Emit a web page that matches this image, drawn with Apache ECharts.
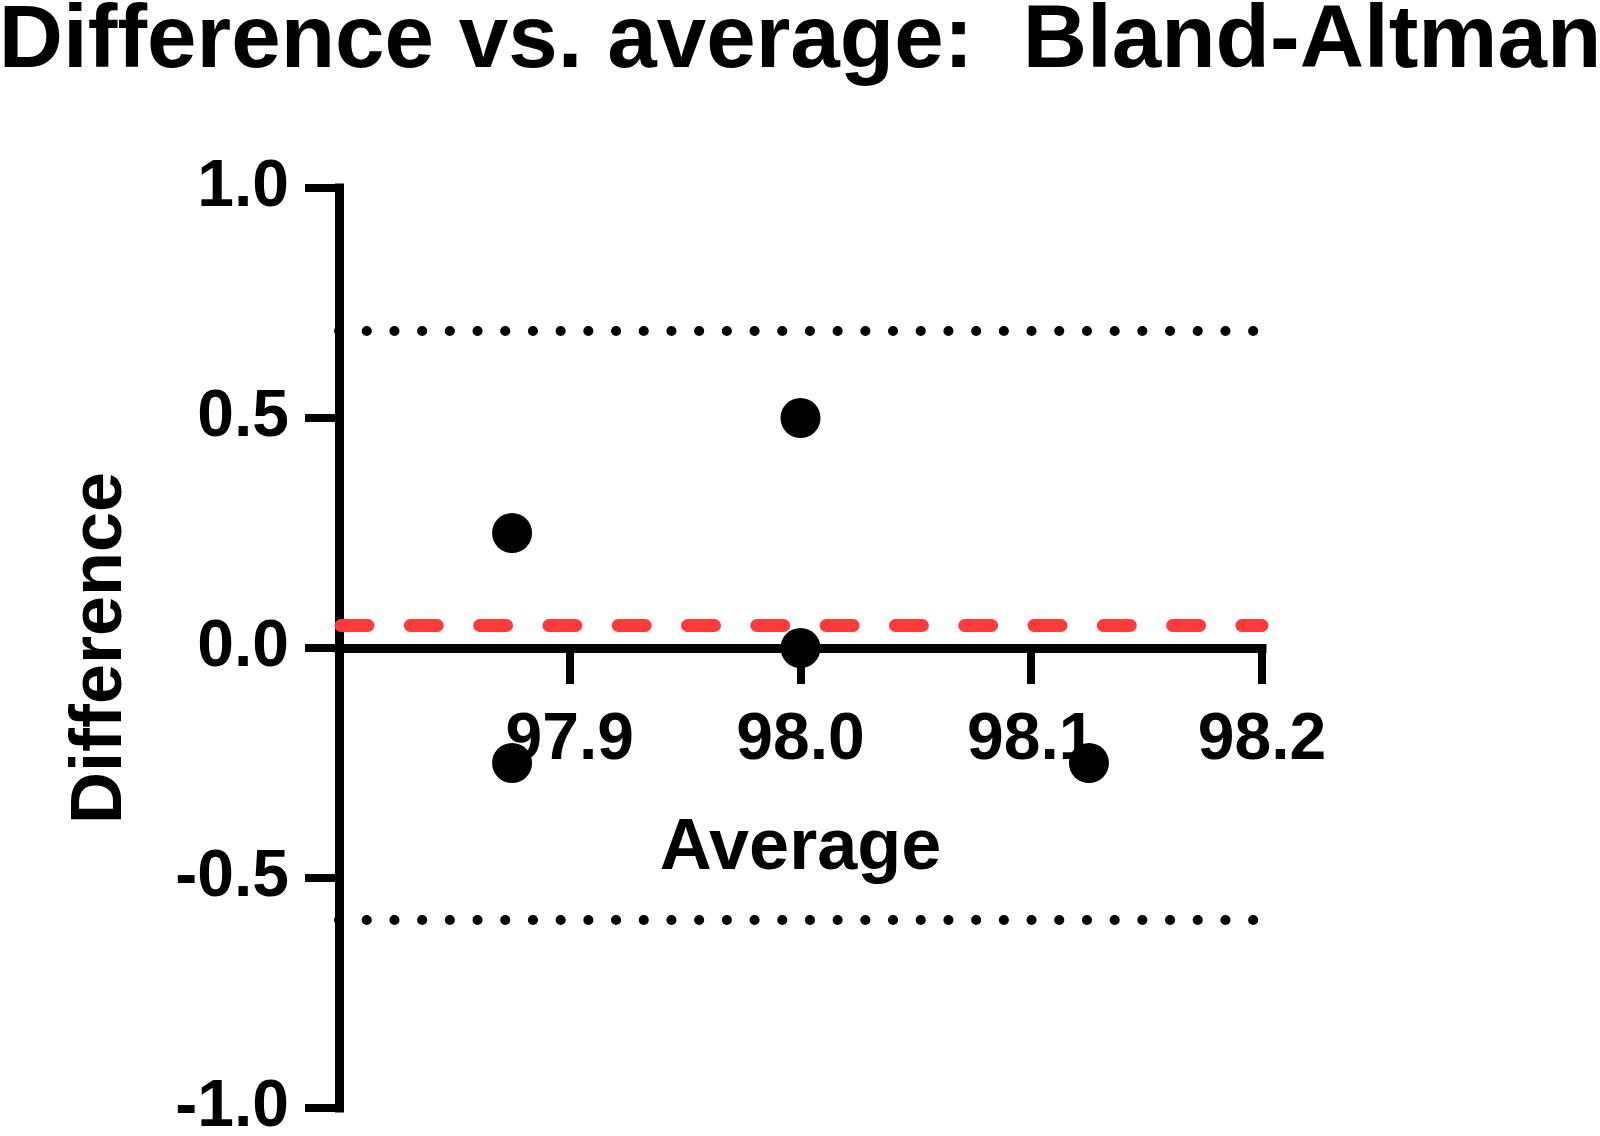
<!DOCTYPE html>
<html>
<head>
<meta charset="utf-8">
<script src="https://cdn.jsdelivr.net/npm/echarts@6/dist/echarts.min.js"></script>
<style>
html,body{margin:0;padding:0;background:#fff;}
#chart{width:1600px;height:1136px;}
</style>
</head>
<body>
<div id="chart"></div>
<script>
// Data (Bland-Altman)
const averages = [97.875, 98.0, 98.0, 97.875, 98.125];
const differences = [0.25, 0.5, 0.0, -0.25, -0.25];
const biasValue = 0.05;
const upperLimit = 0.689;
const lowerLimit = -0.589;
const xTickValues = [97.8, 97.9, 98.0, 98.1, 98.2];
const yTickValues = [-1.0, -0.5, 0.0, 0.5, 1.0];

const FONT = '"Liberation Sans", Arial, Helvetica, sans-serif';
const points = averages.map((a, i) => [a, differences[i]]);

// layout of plot area
const PLOT_LEFT = 339, PLOT_RIGHT = 338, PLOT_TOP = 188, PLOT_BOTTOM = 28;
const plotHeight = 1136 - PLOT_TOP - PLOT_BOTTOM;
const yMin = yTickValues[0], yMax = yTickValues[yTickValues.length - 1];
// the visible x axis sits at difference = 0
const zeroGridHeight = plotHeight * (yMax - 0) / (yMax - yMin);

const xMin = xTickValues[0], xMax = xTickValues[xTickValues.length - 1];

const chart = echarts.init(document.getElementById('chart'));
chart.setOption({
  backgroundColor: '#ffffff',
  animation: false,
  title: {
    text: 'Difference vs. average:  Bland-Altman',
    left: 'center',
    top: -7,
    textStyle: { fontFamily: FONT, fontWeight: 'bold', fontSize: 89, color: '#000' }
  },
  grid: [
    { left: PLOT_LEFT, right: PLOT_RIGHT, top: PLOT_TOP, bottom: PLOT_BOTTOM, outerBoundsMode: 'none', containLabel: false },
    { left: PLOT_LEFT, right: PLOT_RIGHT, top: PLOT_TOP, height: zeroGridHeight, outerBoundsMode: 'none', containLabel: false }
  ],
  xAxis: [
    {
      gridIndex: 0,
      type: 'value', min: xMin, max: xMax, interval: 0.1,
      show: false
    },
    {
      gridIndex: 1,
      type: 'value', min: xMin, max: xMax, interval: 0.1,
      position: 'bottom',
      name: 'Average',
      nameLocation: 'middle',
      nameGap: 165,
      nameTextStyle: { fontFamily: FONT, fontWeight: 'bold', fontSize: 72, color: '#000' },
      axisLine: { show: true, onZero: false, lineStyle: { color: '#000', width: 9, cap: 'square' } },
      axisTick: { show: true, inside: false, length: 36, lineStyle: { color: '#000', width: 8 } },
      axisLabel: {
        margin: 60,
        fontFamily: FONT, fontWeight: 'bold', fontSize: 66, color: '#000',
        formatter: function (v) { return Math.abs(v - xMin) < 1e-9 ? '' : v.toFixed(1); }
      },
      splitLine: { show: false }
    }
  ],
  yAxis: [
    {
      gridIndex: 0,
      type: 'value', min: yMin, max: yMax, interval: 0.5,
      name: 'Difference',
      nameLocation: 'middle',
      nameGap: 202,
      nameRotate: 90,
      nameTextStyle: { fontFamily: FONT, fontWeight: 'bold', fontSize: 72, color: '#000' },
      axisLine: { show: true, onZero: false, lineStyle: { color: '#000', width: 9, cap: 'square' } },
      axisTick: { show: true, inside: false, length: 34, lineStyle: { color: '#000', width: 8 } },
      axisLabel: {
        margin: 50,
        fontFamily: FONT, fontWeight: 'bold', fontSize: 66, color: '#000',
        formatter: function (v) { return v.toFixed(1); }
      },
      splitLine: { show: false }
    },
    {
      gridIndex: 1,
      type: 'value', min: 0, max: yMax,
      show: false
    }
  ],
  series: [
    {
      type: 'scatter',
      xAxisIndex: 0,
      yAxisIndex: 0,
      data: points,
      symbol: 'circle',
      symbolSize: 40,
      itemStyle: { color: '#000', opacity: 1 },
      z: 3,
      markLine: {
        silent: true,
        symbol: ['none', 'none'],
        label: { show: false },
        z: 2,
        data: [
          { yAxis: upperLimit, lineStyle: { color: '#000', width: 10, type: [0.1, 27.6], cap: 'round', opacity: 1 } },
          { yAxis: lowerLimit, lineStyle: { color: '#000', width: 10, type: [0.1, 27.6], cap: 'round', opacity: 1 } },
          { yAxis: biasValue, lineStyle: { color: '#ff3b3b', width: 13, type: [27, 42.3], dashOffset: -2, cap: 'round', opacity: 1 } }
        ]
      }
    }
  ]
});
</script>
</body>
</html>
